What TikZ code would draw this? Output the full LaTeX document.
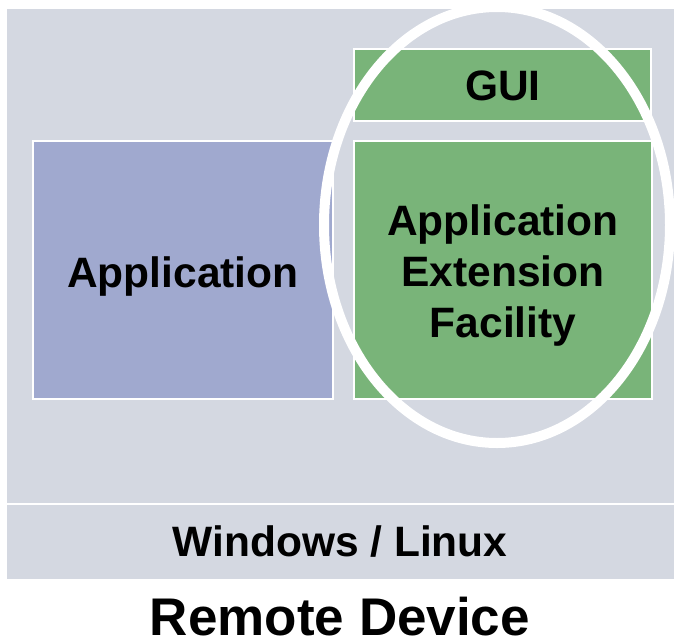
\documentclass[tikz,border=0pt]{standalone}
\usepackage{fontspec}
\setmainfont{Liberation Sans}
\definecolor{bggray}{RGB}{212,216,225}
\definecolor{appblue}{RGB}{160,169,207}
\definecolor{aefgreen}{RGB}{121,180,121}
\begin{document}
\begin{tikzpicture}[x=1pt,y=-1pt,
  boxstyle/.style={draw=white,line width=2.5pt},
  lbl/.style={font=\bfseries\fontsize{42.5}{51}\selectfont,align=center,inner sep=0pt}]
\useasboundingbox (0,0) rectangle (674,640);
\fill[white] (0,0) rectangle (674,640);
\fill[bggray] (7,9) rectangle (674,579);
\draw[white,line width=2.5pt] (7,504) -- (674,504);
\draw[boxstyle,fill=appblue] (33,141) rectangle (333,399);
\draw[boxstyle,fill=aefgreen] (354,49) rectangle (651,121);
\draw[boxstyle,fill=aefgreen] (354,141) rectangle (652,399);
\draw[white,line width=10pt] (497,225) ellipse [x radius=173,y radius=218];
\node[lbl,anchor=base] (app) at (183,287) {Application};
\node[lbl,anchor=base] (gui) at (503,100) {GUI};
\node[lbl] (aef) at (503,276) {Application\\Extension\\Facility};
\node[lbl,anchor=base] (os) at (340,556) {Windows / Linux};
\node[lbl,anchor=base,text depth=0pt,font=\bfseries\fontsize{53}{60}\selectfont] (dev) at (340,635) {Remote Device};
\end{tikzpicture}
\end{document}
